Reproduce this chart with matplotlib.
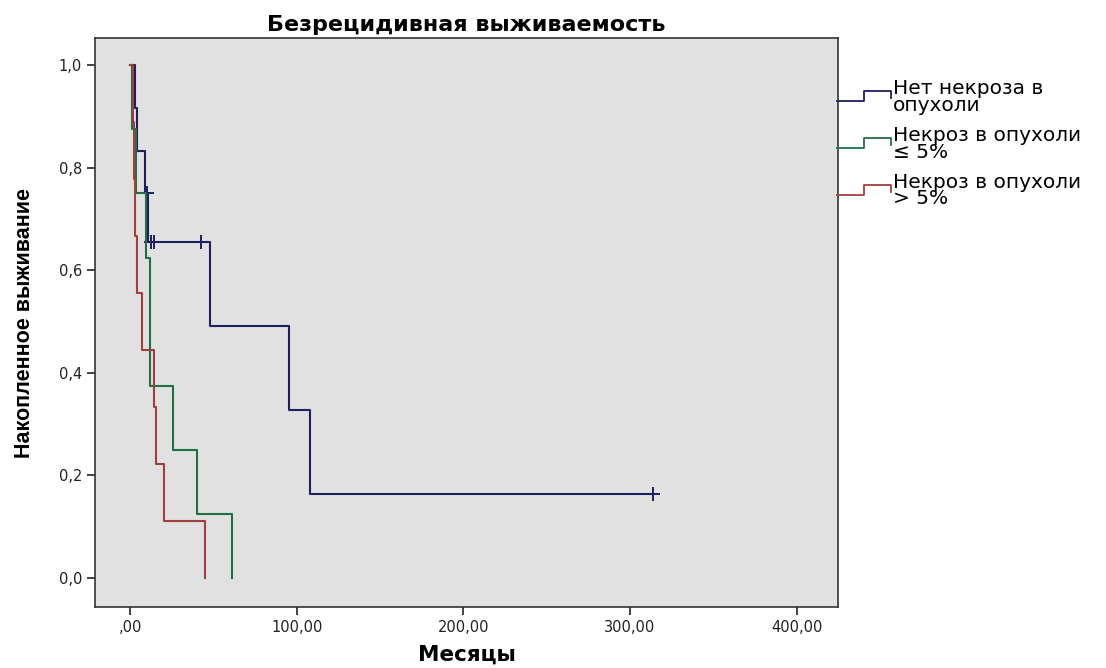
import numpy as np
import matplotlib
matplotlib.use('Agg')
import matplotlib.pyplot as plt
from matplotlib.lines import Line2D
from matplotlib.ticker import FuncFormatter

# Группы и цвета кривых Каплана-Мейера
groups = ['Нет некроза в\nопухоли', 'Некроз в опухоли\n≤ 5%', 'Некроз в опухоли\n> 5%']
colors = ['#1e1e60', '#1f6f47', '#a33f3b']

# Время (месяцы) и статус: 1 - рецидив, 0 - цензурировано
t_no = [3, 4, 8.7, 10, 10.5, 12.6, 14.6, 42.6, 48, 95.6, 108, 314]
e_no = [1, 1, 1, 0, 1, 0, 0, 0, 1, 1, 1, 0]
t_le5 = [1, 3.5, 9.3, 12, 12, 25.6, 40, 61]
e_le5 = [1, 1, 1, 1, 1, 1, 1, 1]
t_gt5 = [2, 2.5, 3, 4, 7, 14.6, 15.4, 20.6, 45]
e_gt5 = [1, 1, 1, 1, 1, 1, 1, 1, 1]

x_ticks = [0, 100, 200, 300, 400]
x_ticklabels = [',00', '100,00', '200,00', '300,00', '400,00']
y_ticks = [0.0, 0.2, 0.4, 0.6, 0.8, 1.0]


def kaplan_meier(times, events):
    times = np.asarray(times, float)
    events = np.asarray(events, int)
    order = np.argsort(times, kind='stable')
    times, events = times[order], events[order]
    n = len(times)
    s = 1.0
    xs, ys = [0.0], [1.0]
    cens_x, cens_y = [], []
    for i, (t, e) in enumerate(zip(times, events)):
        at_risk = n - i
        if e == 1:
            s = s * (at_risk - 1) / at_risk
            xs.append(t)
            ys.append(s)
        else:
            cens_x.append(t)
            cens_y.append(s)
    xs.append(times[-1])
    ys.append(s)
    return np.array(xs), np.array(ys), cens_x, cens_y


class StepHandler:
    def legend_artist(self, legend, orig_handle, fontsize, handlebox):
        x0, y0 = handlebox.xdescent, handlebox.ydescent
        w, h = handlebox.width, handlebox.height
        xs = [x0, x0 + 0.5 * w, x0 + 0.5 * w, x0 + w, x0 + w]
        ys = [y0 + 0.1 * h, y0 + 0.1 * h, y0 + 0.7 * h, y0 + 0.7 * h, y0 + 0.3 * h]
        line = Line2D(xs, ys, color=orig_handle.get_color(), lw=1.3,
                      transform=handlebox.get_transform())
        handlebox.add_artist(line)
        return line


fig = plt.figure(figsize=(11.06, 6.68), dpi=100)
ax = fig.add_axes([0.086, 0.091, 0.672, 0.852])
ax.set_facecolor('#e1e1e1')

handles = []
for (t, e), color, name in zip([(t_no, e_no), (t_le5, e_le5), (t_gt5, e_gt5)], colors, groups):
    xs, ys, cx, cy = kaplan_meier(t, e)
    h, = ax.step(xs, ys, where='post', color=color, lw=1.5, label=name)
    if cx:
        ax.plot(cx, cy, ls='none', marker='+', ms=10, mew=1.4, color=color)
    handles.append(h)

ax.set_xlim(-21, 425)
ax.set_ylim(-0.057, 1.053)
ax.set_xticks(x_ticks)
ax.set_xticklabels(x_ticklabels)
ax.set_yticks(y_ticks)
ax.yaxis.set_major_formatter(FuncFormatter(lambda v, p: f'{v:.1f}'.replace('.', ',')))
ax.tick_params(direction='out', length=6, width=1.2, labelsize=10.5, colors='#222222')
for sp in ax.spines.values():
    sp.set_linewidth(1.2)
    sp.set_color('#333333')

ax.set_title('Безрецидивная выживаемость', fontsize=16, fontweight='bold', pad=5)
ax.set_xlabel('Месяцы', fontsize=15.5, fontweight='bold', labelpad=7)
ax.set_ylabel('Накопленное выживание', fontsize=15.5, fontweight='bold',
              family=['Liberation Sans'], labelpad=17)

leg = ax.legend(handles, groups, handler_map={Line2D: StepHandler()},
                loc='upper left', bbox_to_anchor=(0.998, 0.928), borderaxespad=0,
                frameon=False, fontsize=14.5, handlelength=2.7, handletextpad=0.1,
                labelspacing=0.55, borderpad=0, handleheight=0.9)
for txt in leg.get_texts():
    txt.set_linespacing(0.85)

fig.savefig('out.png', dpi=100, facecolor='white')
